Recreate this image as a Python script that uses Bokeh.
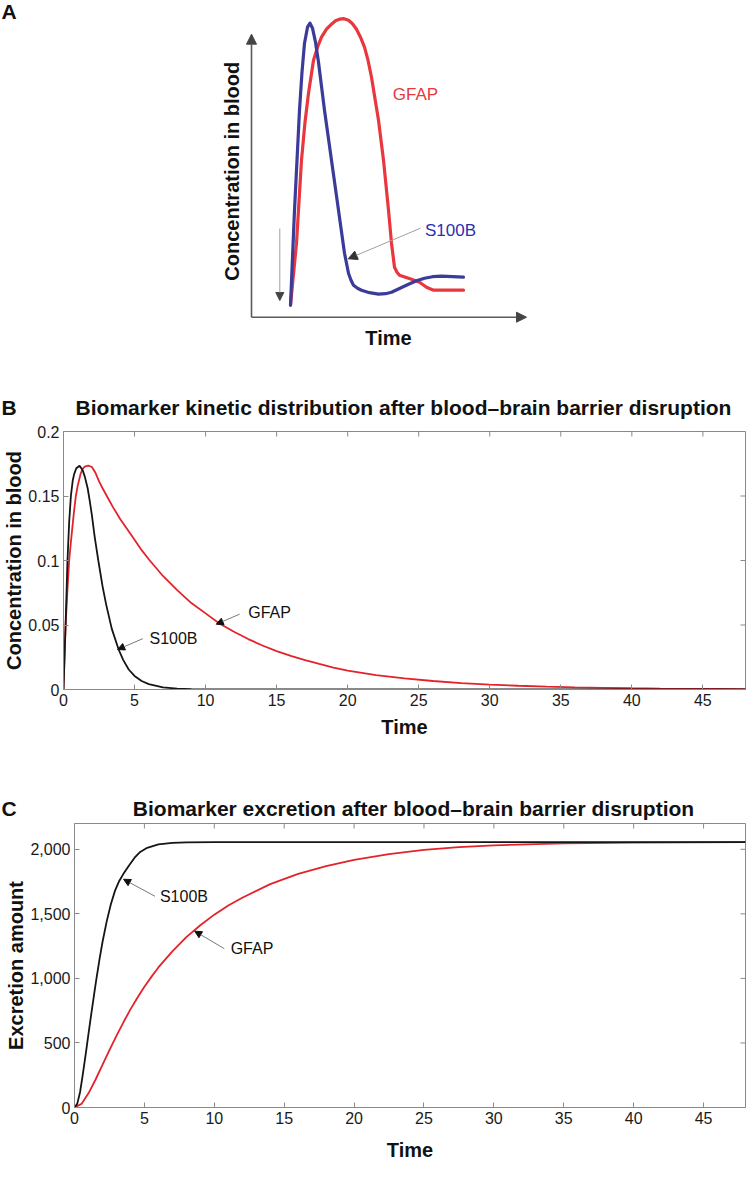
import math
from bokeh.plotting import figure
from bokeh.models import (Range1d, FixedTicker, NumeralTickFormatter,
                          Arrow, NormalHead, Label)
from bokeh.embed import file_html
from bokeh.resources import INLINE

# ---------------- Panel A (schematic, arbitrary units) ----------------
a_s100b_t = [3.9, 4.3, 4.8, 5.05, 5.3, 5.6, 5.85, 6.1, 6.4, 6.7, 7.3, 8.0, 8.7, 9.3, 9.7,
             9.95, 10.2, 10.6, 11.0, 11.8, 12.7, 13.4, 14.0, 15.7, 16.5, 17.3, 18.1, 19.0, 21.2]
a_s100b_c = [1.2, 10.7, 20.7, 24.5, 27.4, 29.0, 29.4, 28.9, 27.5, 25.5, 20.7, 15.7, 10.7, 6.4,
             4.4, 3.7, 3.2, 2.9, 2.7, 2.45, 2.3, 2.35, 2.5, 3.3, 3.65, 3.9, 4.05, 4.1, 4.0]
a_gfap_t = [3.9, 4.5, 5.0, 5.35, 5.7, 6.2, 6.6, 7.0, 7.5, 8.0, 8.4, 8.8, 9.25, 9.7, 10.1,
            10.5, 10.9, 11.3, 11.65, 12.0, 12.7, 13.2, 13.7, 14.0, 14.3, 14.55, 14.8, 16.0,
            16.8, 17.5, 18.2, 19.7, 21.2]
a_gfap_c = [1.2, 7.4, 15.7, 19.5, 22.4, 25.7, 27.0, 28.0, 28.8, 29.3, 29.65, 29.8, 29.85,
            29.7, 29.35, 28.8, 28.0, 27.0, 25.7, 24.0, 19.7, 15.7, 10.7, 7.4, 5.0, 4.5, 4.2,
            3.8, 3.5, 3.0, 2.7, 2.7, 2.7]

# ---------------- Panel B: concentration in blood ----------------
b_time_s100b = [0, 0.08, 0.16, 0.28, 0.4, 0.52, 0.65, 0.75, 0.9, 1.13, 1.35, 1.5, 1.7, 1.85,
                2.0, 2.2, 2.45, 2.75, 3.0, 3.4, 3.88, 4.2, 4.59, 5.0, 5.5, 6.0, 7.0, 8.0,
                9.0, 10, 12, 48]
b_conc_s100b = [0, 0.027, 0.055, 0.1, 0.13, 0.15, 0.162, 0.167, 0.1715, 0.1735, 0.170, 0.165,
                0.156, 0.146, 0.135, 0.118, 0.1, 0.08, 0.066, 0.047, 0.031, 0.023, 0.0155,
                0.0105, 0.0066, 0.0042, 0.0016, 0.0006, 0.00025, 0.0001, 0, 0]
b_time_gfap = [0, 0.08, 0.16, 0.28, 0.4, 0.5, 0.6, 0.75, 0.87, 1.0, 1.2, 1.34, 1.5, 1.74,
               2.0, 2.25, 2.52, 2.75, 3.0, 3.5, 4.0, 4.5, 5.0, 5.5, 6.0, 7.0, 8.0, 9.0, 10,
               11, 12, 13, 14, 15, 16, 17, 18, 19, 20, 22, 24, 26, 28, 30, 32, 34, 36, 38,
               40, 42, 44, 46, 48]
b_conc_gfap = [0, 0.03, 0.052, 0.078, 0.1, 0.112, 0.123, 0.139, 0.15, 0.158, 0.167, 0.171,
               0.1728, 0.1735, 0.1725, 0.168, 0.161, 0.156, 0.151, 0.141, 0.132, 0.124,
               0.116, 0.108, 0.101, 0.088, 0.077, 0.067, 0.059, 0.051, 0.0448, 0.0391,
               0.0341, 0.0298, 0.0260, 0.0227, 0.0198, 0.0170, 0.0146, 0.0112, 0.0086,
               0.0066, 0.0050, 0.0038, 0.0029, 0.0022, 0.0017, 0.0013, 0.00097, 0.00074,
               0.00056, 0.00043, 0.00033]

# ---------------- Panel C: cumulative excretion ----------------
c_time_s100b = [0, 0.2, 0.4, 0.6, 0.83, 1.0, 1.2, 1.4, 1.55, 1.8, 2.0, 2.3, 2.6, 2.9, 3.2,
                3.5, 3.9, 4.3, 4.7, 5.2, 6.0, 7.0, 8.0, 10, 48]
c_exc_s100b = [0, 30, 120, 260, 435, 570, 725, 875, 985, 1155, 1280, 1440, 1575, 1680, 1755,
               1810, 1875, 1935, 1980, 2012, 2038, 2050, 2054, 2055, 2055]
c_time_gfap = [0, 0.5, 1.0, 1.5, 2.0, 2.5, 3.0, 3.5, 4.0, 4.5, 5.0, 5.5, 6.0, 7.0, 8.0, 9.0,
               10, 11, 12, 14, 16, 18, 20, 22.5, 25, 27.5, 30, 35, 40, 44, 48]
c_exc_gfap = [0, 28, 110, 215, 330, 445, 555, 660, 760, 850, 935, 1012, 1085, 1210, 1320,
              1412, 1494, 1565, 1625, 1730, 1810, 1870, 1918, 1962, 1995, 2017, 2031, 2046,
              2052, 2054, 2055]

x_ticks = [0, 5, 10, 15, 20, 25, 30, 35, 40, 45]
b_y_ticks = [0, 0.05, 0.1, 0.15, 0.2]
c_y_ticks = [0, 500, 1000, 1500, 2000]

TITLE_B = "Biomarker kinetic distribution after blood\u2013brain barrier disruption"
TITLE_C = "Biomarker excretion after blood\u2013brain barrier disruption"

FONT = "Liberation Sans"
GRAY = "#8a8a8a"
BLACK = "#151515"
RED = "#e3232b"
A_BLUE = "#3b3b9a"
A_RED = "#e8373d"
TXT = "#111111"

W = 746


def bold_label(p, x, y, text, size="21px", align="left", angle=0.0):
    p.add_layout(Label(x=x, y=y, text=text, text_font=FONT, text_font_style="bold",
                       text_font_size=size, text_align=align, text_baseline="middle",
                       text_color=TXT, angle=angle))


def text_only(p):
    p.outline_line_color = None
    p.xgrid.visible = False
    p.ygrid.visible = False


# ---------------- Figure A (also carries the heading of panel B) ----------------
pA = figure(width=W, height=423, x_range=Range1d(-25.1, 49.5), y_range=Range1d(-10.63, 31.67),
            output_backend="svg", toolbar_location=None, min_border=0,
            x_axis_location=None, y_axis_location=None)
text_only(pA)

pA.add_layout(Arrow(end=NormalHead(size=10, fill_color="#444444", line_color="#444444"),
                    x_start=0, y_start=0, x_end=0, y_end=28.3,
                    line_color="#5a5a5a", line_width=1.6))
pA.add_layout(Arrow(end=NormalHead(size=10, fill_color="#444444", line_color="#444444"),
                    x_start=0, y_start=0, x_end=27.5, y_end=0,
                    line_color="#5a5a5a", line_width=1.6))
pA.add_layout(Arrow(end=NormalHead(size=8, fill_color="#444444", line_color="#444444"),
                    x_start=2.83, y_start=8.87, x_end=2.83, y_end=1.67,
                    line_color="#a0a0a0", line_width=1))

pA.line(a_gfap_t, a_gfap_c, line_color=A_RED, line_width=3.2, line_join="round", line_cap="round")
pA.line(a_s100b_t, a_s100b_c, line_color=A_BLUE, line_width=3.2, line_join="round", line_cap="round")

pA.add_layout(Arrow(end=NormalHead(size=9, fill_color="#333333", line_color="#333333"),
                    x_start=16.9, y_start=8.9, x_end=9.67, y_end=5.84,
                    line_color="#a0a0a0", line_width=1))

pA.add_layout(Label(x=16.4, y=22.3, text="GFAP", text_color=A_RED, text_font=FONT,
                    text_font_size="17px", text_align="center", text_baseline="middle"))
pA.add_layout(Label(x=19.9, y=8.7, text="S100B", text_color="#2e2eb0", text_font=FONT,
                    text_font_size="17px", text_align="center", text_baseline="middle"))
bold_label(pA, -2.0, 14.6, "Concentration in blood", size="20px", align="center",
           angle=math.pi / 2)
bold_label(pA, 13.7, -2.1, "Time", size="20px", align="center")
bold_label(pA, -25.0, 30.6, "A")
bold_label(pA, -25.0, -9.03, "B")
bold_label(pA, 15.2, -9.03, TITLE_B, align="center")


def style_panel(p, yticks, yfmt, ylabel, xlabel_standoff):
    p.xaxis.ticker = FixedTicker(ticks=x_ticks)
    p.yaxis.ticker = FixedTicker(ticks=yticks)
    p.yaxis.formatter = NumeralTickFormatter(format=yfmt)
    p.xaxis.axis_label = "Time"
    p.yaxis.axis_label = ylabel
    for ax in list(p.xaxis) + list(p.yaxis):
        ax.major_tick_in = 5
        ax.major_tick_out = 0
        ax.minor_tick_line_color = None
        ax.axis_line_color = GRAY
        ax.major_tick_line_color = GRAY
        ax.major_label_text_font = FONT
        ax.major_label_text_font_size = "16px"
        ax.major_label_text_color = "#1a1a1a"
        ax.major_label_standoff = 4
        ax.axis_label_text_font = FONT
        ax.axis_label_text_font_size = "20px"
        ax.axis_label_text_font_style = "bold"
        ax.axis_label_text_color = TXT
    p.yaxis.axis_label_standoff = 0
    p.xaxis.axis_label_standoff = xlabel_standoff
    p.outline_line_color = GRAY
    p.xgrid.visible = False
    p.ygrid.visible = False
    xr = p.x_range
    yr = p.y_range
    # mirrored inward ticks on the top and right frame edges (clipped to the frame)
    p.scatter(x=x_ticks, y=[yr.end] * len(x_ticks), marker="dash", size=10,
              angle=math.pi / 2, line_color=GRAY, line_width=1)
    p.scatter(x=[xr.end] * len(yticks), y=yticks, marker="dash", size=10,
              angle=0, line_color=GRAY, line_width=1)


def pointer(p, x0, y0, x1, y1):
    p.add_layout(Arrow(end=NormalHead(size=7, fill_color="#111111", line_color="#111111"),
                       x_start=x0, y_start=y0, x_end=x1, y_end=y1,
                       line_color="#7a7a7a", line_width=1))


def note(p, x, y, text):
    p.add_layout(Label(x=x, y=y, text=text, text_font=FONT, text_font_size="16px",
                       text_align="left", text_baseline="middle", text_color=TXT))


# ---------------- Figure B ----------------
pB = figure(width=W, height=366, x_range=Range1d(0, 48), y_range=Range1d(0, 0.2),
            output_backend="svg", toolbar_location=None,
            min_border_left=63, min_border_right=1, min_border_top=8, min_border_bottom=100)
style_panel(pB, b_y_ticks, "0.[00]", "Concentration in blood", 7)
pB.line(b_time_gfap, b_conc_gfap, line_color=RED, line_width=1.8)
pB.line(b_time_s100b, b_conc_s100b, line_color=BLACK, line_width=1.8)
pointer(pB, 5.58, 0.0394, 3.81, 0.031)
note(pB, 6.05, 0.0399, "S100B")
pointer(pB, 12.4, 0.0584, 10.75, 0.0506)
note(pB, 13.0, 0.0595, "GFAP")

# ---------------- Heading of panel C ----------------
hC = figure(width=W, height=32, x_range=Range1d(0, W), y_range=Range1d(0, 32),
            output_backend="svg", toolbar_location=None, min_border=0,
            x_axis_location=None, y_axis_location=None)
text_only(hC)
bold_label(hC, 1, 13, "C")
bold_label(hC, 413, 13, TITLE_C, align="center")

# ---------------- Figure C ----------------
pC = figure(width=W, height=347, x_range=Range1d(0, 48), y_range=Range1d(0, 2200),
            output_backend="svg", toolbar_location=None,
            min_border_left=74, min_border_right=1, min_border_top=2, min_border_bottom=61)
style_panel(pC, c_y_ticks, "0,0", "Excretion amount", 12)
pC.line(c_time_gfap, c_exc_gfap, line_color=RED, line_width=1.8)
pC.line(c_time_s100b, c_exc_s100b, line_color=BLACK, line_width=1.8)
pointer(pC, 5.76, 1636, 3.51, 1768)
note(pC, 6.11, 1635, "S100B")
pointer(pC, 10.72, 1230, 8.6, 1366)
note(pC, 11.17, 1230, "GFAP")

open("out.html", "w").write(file_html([pA, pB, hC, pC], INLINE))
